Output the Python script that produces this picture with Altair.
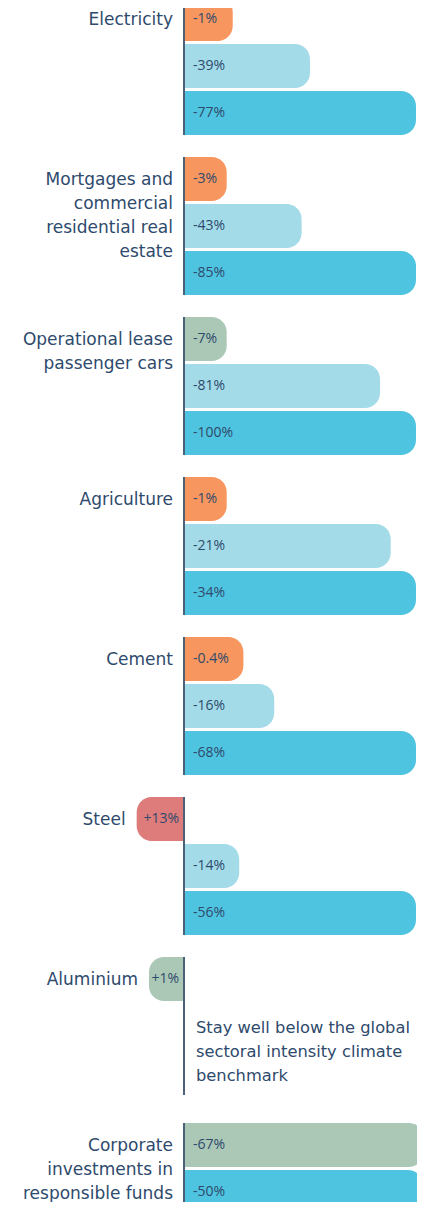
import altair as alt
import pandas as pd

# ---- data ----
sectors = [
    "Electricity",
    "Mortgages and\ncommercial\nresidential real\nestate",
    "Operational lease\npassenger cars",
    "Agriculture",
    "Cement",
    "Steel",
    "Aluminium",
    "Corporate\ninvestments in\nresponsible funds",
]
value_labels = [
    ["-1%", "-39%", "-77%"],
    ["-3%", "-43%", "-85%"],
    ["-7%", "-81%", "-100%"],
    ["-1%", "-21%", "-34%"],
    ["-0.4%", "-16%", "-68%"],
    ["+13%", "-14%", "-56%"],
    ["+1%"],
    ["-67%", "-50%"],
]
# displayed bar lengths (relative, 100 = full bar); negative = drawn to the left
bar_lengths = [
    [21.0, 54.3, 100],
    [18.4, 50.7, 100],
    [18.4, 84.5, 100],
    [18.4, 89.1, 100],
    [25.6, 38.9, 100],
    [-20.4, 23.8, 100],
    [-15.1],
    [103.4, 103.0],
]
statuses = [
    ["off", "mid", "target"],
    ["off", "mid", "target"],
    ["on", "mid", "target"],
    ["off", "mid", "target"],
    ["off", "mid", "target"],
    ["up", "mid", "target"],
    ["on"],
    ["on", "target"],
]
status_domain = ["off", "on", "up", "mid", "target"]
status_colors = ["#F7965F", "#ABC8B6", "#DE7B7B", "#A3DCE8", "#4EC4E0"]
note = "Stay well below the global\nsectoral intensity climate\nbenchmark"

TEXT = "#2E4A6C"
FONT = "DejaVu Sans"
VFONT = "Open Sans"

# ---- layout (in slot units) ----
W, H = 409, 1194
GROUP_STEP = 160 / 47
BAR = 44 / 47
group_tops = [g * GROUP_STEP for g in range(7)] + [1126 / 47]
Y_DOMAIN = [11 / 47, (H + 11) / 47]
X_DOMAIN = [-176 / 2.32, (W - 176) / 2.32]

bars, cats, rules = [], [], []
for g, name in enumerate(sectors):
    top = group_tops[g]
    for s, (lab, ln, st) in enumerate(zip(value_labels[g], bar_lengths[g], statuses[g])):
        bars.append(dict(sector=name, slot=s, y=top + s, y2=top + s + BAR,
                         yc=top + s + BAR / 2, length=ln, label=lab, status=st))
    first = bar_lengths[g][0]
    cats.append(dict(sector=name, yc=top + BAR / 2, anchor=min(0, first)))
    rules.append(dict(y=top, y2=top + 2 + BAR))

bars = pd.DataFrame(bars)
cats = pd.DataFrame(cats)
rules = pd.DataFrame(rules)
notes = pd.DataFrame([dict(text=note, yc=group_tops[6] + 1 + BAR / 2)])

xs = alt.Scale(domain=X_DOMAIN, nice=False, zero=False)
ys = alt.Scale(domain=Y_DOMAIN, nice=False, zero=False, reverse=True)
col = alt.Color("status:N", scale=alt.Scale(domain=status_domain, range=status_colors), legend=None)

right = alt.Chart(bars).transform_filter("datum.length > 0").mark_bar(
    cornerRadiusTopRight=15, cornerRadiusBottomRight=15, clip=True
).encode(
    x=alt.X("length:Q", scale=xs, axis=None), x2=alt.datum(0),
    y=alt.Y("y:Q", scale=ys, axis=None), y2="y2:Q", color=col,
)
left = alt.Chart(bars).transform_filter("datum.length < 0").mark_bar(
    cornerRadiusTopLeft=15, cornerRadiusBottomLeft=15, clip=True
).encode(
    x=alt.X("length:Q", scale=xs, axis=None), x2=alt.datum(0),
    y=alt.Y("y:Q", scale=ys, axis=None), y2="y2:Q", color=col,
)
axis_rule = alt.Chart(rules).mark_rule(color="#4D6079", strokeWidth=2, clip=True).encode(
    x=alt.X(datum=0, scale=xs, axis=None),
    y=alt.Y("y:Q", scale=ys, axis=None), y2="y2:Q",
)
lab_right = alt.Chart(bars).transform_filter("datum.length > 0").mark_text(
    align="left", baseline="middle", dx=9, fontSize=14, font=VFONT, color=TEXT, clip=True
).encode(
    x=alt.X(datum=0, scale=xs, axis=None),
    y=alt.Y("yc:Q", scale=ys, axis=None), text="label:N",
)
lab_left = alt.Chart(bars).transform_filter("datum.length < 0").mark_text(
    align="right", baseline="middle", dx=-5, fontSize=14, font=VFONT, color=TEXT, clip=True
).encode(
    x=alt.X(datum=0, scale=xs, axis=None),
    y=alt.Y("yc:Q", scale=ys, axis=None), text="label:N",
)
cat_text = alt.Chart(cats).transform_calculate(
    lines="split(datum.sector, '\\n')"
).mark_text(
    align="right", baseline="alphabetic", dx=-11, dy=6, fontSize=17, font=FONT,
    color=TEXT, lineHeight=24, clip=True
).encode(
    x=alt.X("anchor:Q", scale=xs, axis=None),
    y=alt.Y("yc:Q", scale=ys, axis=None), text="lines:N",
)
note_text = alt.Chart(notes).transform_calculate(
    lines="split(datum.text, '\\n')"
).mark_text(
    align="left", baseline="alphabetic", dx=12, dy=7, fontSize=16.3, font=FONT,
    color=TEXT, lineHeight=24, clip=True
).encode(
    x=alt.X(datum=0, scale=xs, axis=None),
    y=alt.Y("yc:Q", scale=ys, axis=None), text="lines:N",
)

chart = alt.layer(right, left, axis_rule, lab_right, lab_left, cat_text, note_text).properties(
    width=W, height=H, padding=0,
    autosize=alt.AutoSizeParams(type="none"),
).configure_view(stroke=None)

chart.save("out.html", embed_options={"renderer": "svg", "actions": False})
